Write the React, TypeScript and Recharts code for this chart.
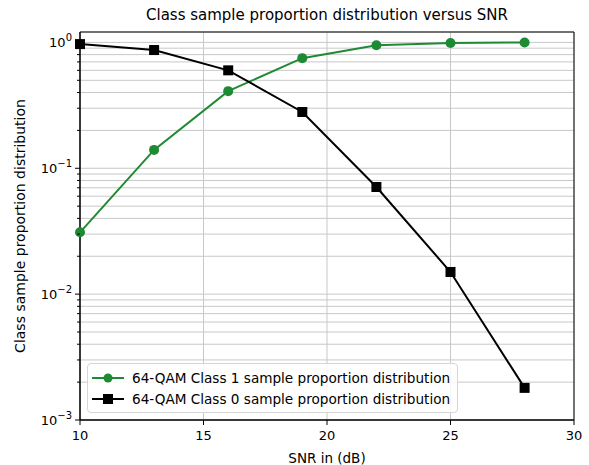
import React from 'react';
import { LineChart, Line, XAxis, YAxis, CartesianGrid, ReferenceArea } from 'recharts';

const snr = [10, 13, 16, 19, 22, 25, 28];
const class1 = [0.031, 0.14, 0.41, 0.75, 0.95, 0.99, 1.0];
const class0 = [0.97, 0.87, 0.6, 0.28, 0.071, 0.015, 0.0018];

const xTicks = [10, 15, 20, 25, 30];
const majorY = [0.001, 0.01, 0.1, 1];
const minorMult = [2, 3, 4, 5, 6, 7, 8, 9];
const yTicks = [
  ...majorY,
  ...[0.001, 0.01, 0.1].flatMap((d) => minorMult.map((m) => +(d * m).toPrecision(3))),
].sort((a, b) => a - b);

const GREEN = '#1f8a34';
const FONT = '"DejaVu Sans", sans-serif';

const data = snr.map((s, i) => ({ snr: s, c1: class1[i], c0: class0[i] }));

const YTick = (props: any) => {
  const { x, y, payload } = props;
  const v = payload.value;
  const major = majorY.includes(v);
  const exp = Math.round(Math.log10(v));
  return (
    <g>
      <line x1={x - (major ? 5 : 3)} x2={x} y1={y} y2={y} stroke="#000" strokeWidth={1} />
      {major && (
        <text x={x - 8} y={y + 5} textAnchor="end" fontSize={13} fontFamily={FONT} fill="#000">
          10
          <tspan dy={-6} fontSize={10}>{exp === 0 ? '0' : '\u2212' + Math.abs(exp)}</tspan>
        </text>
      )}
    </g>
  );
};

const SquareDot = (props: any) => {
  const { cx, cy } = props;
  if (cx == null || cy == null) return null;
  return <rect x={cx - 5} y={cy - 5} width={10} height={10} fill="#000" />;
};

const legendItems = [
  { label: '64-QAM Class 1 sample proportion distribution', color: GREEN, shape: 'circle' },
  { label: '64-QAM Class 0 sample proportion distribution', color: '#000', shape: 'square' },
];

const LegendBox = () => (
  <div
    style={{
      position: 'absolute',
      left: 87,
      top: 363,
      border: '1px solid #d6d6d6',
      borderRadius: 4,
      background: 'rgba(255,255,255,0.85)',
      padding: '3px 7px 3px 3px',
      fontFamily: FONT,
      fontSize: 13.6,
      color: '#000',
    }}
  >
    {legendItems.map((it) => (
      <div key={it.label} style={{ display: 'flex', alignItems: 'center', height: 21 }}>
        <svg width={34} height={12} style={{ marginRight: 7 }}>
          <line x1={1} x2={33} y1={6} y2={6} stroke={it.color} strokeWidth={2} />
          {it.shape === 'circle' ? (
            <circle cx={17} cy={6} r={4.5} fill={it.color} />
          ) : (
            <rect x={12} y={1} width={10} height={10} fill={it.color} />
          )}
        </svg>
        <span>{it.label}</span>
      </div>
    ))}
  </div>
);

export default function App() {
  return (
    <div style={{ position: 'absolute', left: 0, top: 0, width: 589, height: 465, background: '#fff' }}>
      <div
        style={{
          position: 'absolute',
          left: 80,
          width: 494,
          top: 6,
          textAlign: 'center',
          fontFamily: FONT,
          fontSize: 15,
        }}
      >
        Class sample proportion distribution versus SNR
      </div>
      <LineChart width={589} height={465} data={data} margin={{ top: 32, right: 15, bottom: 0, left: 0 }}>
        <CartesianGrid stroke="#c8c8c8" strokeWidth={1} />
        <XAxis
          dataKey="snr"
          type="number"
          domain={[10, 30]}
          ticks={xTicks}
          interval={0}
          height={45}
          tickSize={5}
          tickMargin={6}
          tickLine={{ stroke: '#000' }}
          axisLine={{ stroke: '#000' }}
          tick={{ fill: '#000', fontSize: 13, fontFamily: FONT }}
          label={{ value: 'SNR in (dB)', position: 'insideBottom', offset: 2, fill: '#000', fontSize: 13.5, fontFamily: FONT }}
        />
        <YAxis
          scale="log"
          type="number"
          domain={[0.001, 1.21]}
          allowDataOverflow
          ticks={yTicks}
          interval={0}
          width={80}
          tickSize={0}
          tickMargin={0}
          tickLine={false}
          axisLine={{ stroke: '#000' }}
          tick={<YTick />}
          label={{
            value: 'Class sample proportion distribution',
            angle: -90,
            position: 'insideLeft',
            offset: 20,
            style: { textAnchor: 'middle' },
            fill: '#000',
            fontSize: 14,
            fontFamily: FONT,
          }}
        />
        <ReferenceArea x1={10} x2={30} y1={0.001} y2={1.21} fill="none" stroke="#000" strokeWidth={1} ifOverflow="visible" />
        <Line
          dataKey="c1"
          stroke={GREEN}
          strokeWidth={2}
          dot={{ r: 5, fill: GREEN, stroke: GREEN, strokeWidth: 0 }}
          isAnimationActive={false}
        />
        <Line
          dataKey="c0"
          stroke="#000"
          strokeWidth={2}
          dot={<SquareDot />}
          isAnimationActive={false}
        />
      </LineChart>
      <LegendBox />
    </div>
  );
}
